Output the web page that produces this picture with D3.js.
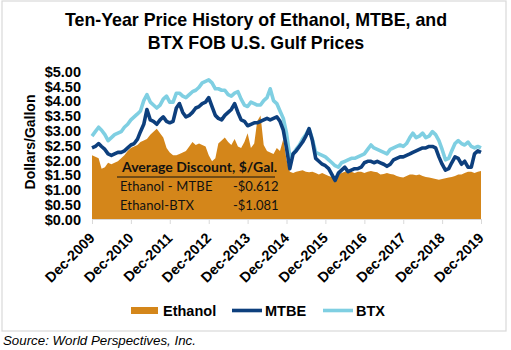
<!DOCTYPE html>
<html>
<head>
<meta charset="utf-8">
<script src="https://cdn.jsdelivr.net/npm/d3@7"></script>
<style>
  body { margin: 0; background: #fff; }
  svg { display: block; font-family: Arial, "Liberation Sans", sans-serif; }
</style>
</head>
<body>
<div id="chart"></div>
<script>
// monthly points, Dec-2009 .. Dec-2019 ($/gal)
const startYear = 2009, startMonth = 11;
const ethanol = [
  2.15, 2.10, 2.05, 1.70, 1.75, 1.90, 1.85, 1.90, 1.95, 2.05, 2.15, 2.30,
  2.40, 2.45, 2.50, 2.60, 2.65, 2.70, 2.85, 2.95, 3.05, 2.90, 2.75, 2.40,
  2.25, 2.15, 2.15, 2.20, 2.25, 2.30, 2.45, 2.60, 2.50, 2.55, 2.50, 2.45,
  2.15, 1.95, 2.05, 2.55, 2.65, 2.75, 2.60, 2.50, 2.70, 2.45, 2.40, 2.60,
  2.90, 2.40, 2.55, 3.30, 3.50, 2.50, 2.30, 2.25, 2.20, 2.40, 2.30, 2.70,
  2.00, 1.60, 1.55, 1.60, 1.62, 1.65, 1.60, 1.58, 1.60, 1.55, 1.50, 1.55,
  1.50, 1.45, 1.42, 1.45, 1.50, 1.55, 1.60, 1.65, 1.60, 1.55, 1.60, 1.60,
  1.55, 1.60, 1.62, 1.60, 1.58, 1.50, 1.52, 1.55, 1.52, 1.50, 1.45, 1.42,
  1.40, 1.45, 1.50, 1.50, 1.48, 1.50, 1.45, 1.42, 1.40, 1.38, 1.35, 1.33,
  1.35, 1.38, 1.40, 1.42, 1.45, 1.50, 1.50, 1.55, 1.60, 1.60, 1.55, 1.60,
  1.62
];
const mtbe = [
  2.40, 2.45, 2.55, 2.45, 2.35, 2.20, 2.15, 2.20, 2.25, 2.25, 2.30, 2.40,
  2.50, 2.55, 2.70, 2.95, 3.20, 3.70, 3.35, 3.30, 3.20, 3.35, 3.45, 3.30,
  3.25, 3.30, 3.75, 3.90, 3.60, 3.45, 3.50, 3.60, 3.75, 3.80, 3.90, 3.95,
  4.10, 3.80, 3.50, 3.40, 3.35, 3.50, 3.60, 3.70, 3.90, 3.60, 3.35, 3.30,
  3.15, 3.20, 3.25, 3.25, 3.30, 3.35, 3.40, 3.35, 3.40, 3.45, 3.30, 3.00,
  2.40, 1.70, 2.20, 2.30, 2.45, 2.60, 2.80, 3.05, 2.65, 2.05, 1.95, 1.85,
  1.80, 1.70, 1.50, 1.30, 1.55, 1.65, 1.75, 1.60, 1.65, 1.70, 1.70, 1.75,
  1.90, 1.95, 1.95, 1.90, 1.95, 1.90, 1.85, 1.78, 1.85, 2.00, 2.05, 2.10,
  2.10, 2.15, 2.20, 2.25, 2.30, 2.35, 2.40, 2.40, 2.45, 2.45, 2.40, 2.10,
  1.85, 1.65, 1.70, 1.90, 2.10, 2.05, 1.85, 1.95, 1.75, 1.75, 2.20, 2.30,
  2.25
];
const btx = [
  2.80, 2.95, 3.10, 3.00, 2.85, 2.65, 2.75, 2.85, 2.90, 2.95, 3.10, 3.20,
  3.35, 3.45, 3.55, 3.65, 4.00, 4.20, 3.95, 3.85, 3.75, 3.85, 4.05, 4.15,
  3.95, 3.95, 4.25, 4.25, 4.15, 4.10, 4.20, 4.30, 4.35, 4.45, 4.60, 4.65,
  4.70, 4.60, 4.40, 4.40, 4.35, 4.35, 4.20, 4.15, 4.25, 4.30, 4.05, 3.85,
  3.80, 3.95, 3.90, 3.85, 3.85, 4.00, 4.10, 4.40, 4.00, 3.90, 3.65, 3.40,
  2.90, 2.10, 2.20, 2.35, 2.50, 2.70, 2.85, 3.05, 2.70, 2.25, 2.20, 2.15,
  2.10, 2.00, 1.90, 1.80, 1.75, 1.90, 1.95, 2.00, 2.05, 2.05, 2.10, 2.15,
  2.20, 2.35, 2.50, 2.40, 2.35, 2.30, 2.25, 2.20, 2.35, 2.40, 2.45, 2.50,
  2.45, 2.55, 2.75, 2.90, 2.75, 2.80, 2.90, 2.75, 2.80, 2.95, 2.85, 2.65,
  2.35, 2.00, 2.05, 2.30, 2.55, 2.65, 2.55, 2.50, 2.60, 2.45, 2.40, 2.45,
  2.40
];
const tickYears = [2009, 2010, 2011, 2012, 2013, 2014, 2015, 2016, 2017, 2018, 2019];
const yTicks = [0, 0.5, 1, 1.5, 2, 2.5, 3, 3.5, 4, 4.5, 5];
const discountRows = [
  { label: "Ethanol - MTBE", value: "-$0.612" },
  { label: "Ethanol-BTX", value: "-$1.081" }
];

const W = 511, H = 350;
const colEth = "#d4861a", colMtbe = "#0d3f7d", colBtx = "#7fcfe2";

const data = ethanol.map((e, i) => ({
  date: new Date(startYear, startMonth + i, 1),
  eth: e, mtbe: mtbe[i], btx: btx[i]
}));

const svg = d3.select("#chart").append("svg")
  .attr("width", W).attr("height", H);

svg.append("rect").attr("width", W).attr("height", H).attr("fill", "#fff");
// chart frame
svg.append("rect")
  .attr("x", 2).attr("y", 1).attr("width", 504).attr("height", 330)
  .attr("fill", "none").attr("stroke", "#d9d9d9").attr("stroke-width", 1.2);

// title
const title = svg.append("text")
  .attr("text-anchor", "middle")
  .attr("font-size", 17.8).attr("font-weight", "bold").attr("fill", "#000");
title.append("tspan").attr("x", 256).attr("y", 26).text("Ten-Year Price History of Ethanol, MTBE, and");
title.append("tspan").attr("x", 256).attr("y", 49).text("BTX FOB U.S. Gulf Prices");

const x = d3.scaleTime()
  .domain([new Date(2009, 11, 1), new Date(2019, 11, 1)])
  .range([92, 481]);
const y = d3.scaleLinear().domain([0, 5]).range([219, 71]);

// y axis labels
const yAxis = svg.append("g")
  .attr("transform", "translate(92,0)")
  .call(d3.axisLeft(y).tickValues(yTicks).tickSize(0).tickPadding(11)
    .tickFormat(d => "$" + d3.format(".2f")(d)));
yAxis.select(".domain").remove();
yAxis.selectAll("text")
  .attr("font-family", "Arial, 'Liberation Sans', sans-serif")
  .attr("font-size", 14.5).attr("font-weight", "bold").attr("fill", "#000")
  .attr("dy", "0.36em");

svg.append("text")
  .attr("transform", "translate(35,142) rotate(-90)")
  .attr("text-anchor", "middle")
  .attr("font-size", 14).attr("font-weight", "bold")
  .text("Dollars/Gallon");

// ethanol area
svg.append("path")
  .datum(data)
  .attr("fill", colEth)
  .attr("d", d3.area().x(d => x(d.date)).y0(y(0)).y1(d => y(d.eth)));

const lineGen = key => d3.line().x(d => x(d.date)).y(d => y(d[key]));
svg.append("path").datum(data)
  .attr("fill", "none").attr("stroke", colBtx).attr("stroke-width", 3.6)
  .attr("stroke-linejoin", "round").attr("d", lineGen("btx"));
svg.append("path").datum(data)
  .attr("fill", "none").attr("stroke", colMtbe).attr("stroke-width", 3.6)
  .attr("stroke-linejoin", "round").attr("d", lineGen("mtbe"));

// x axis
const tickDates = tickYears.map(yr => new Date(yr, 11, 1));
const xAxis = svg.append("g")
  .attr("transform", "translate(0,219)")
  .call(d3.axisBottom(x).tickValues(tickDates).tickSize(5).tickSizeOuter(0)
    .tickFormat(d3.timeFormat("Dec-%Y")));
xAxis.select(".domain").attr("stroke", "#d9d9d9");
xAxis.selectAll(".tick line").attr("stroke", "#d9d9d9");
xAxis.selectAll("text")
  .attr("font-family", "Arial, 'Liberation Sans', sans-serif")
  .attr("font-size", 14.3).attr("font-weight", "bold").attr("fill", "#000")
  .attr("text-anchor", "end")
  .attr("dy", null).attr("y", null)
  .attr("transform", "translate(3,20) rotate(-45)");

// discount annotation
const note = svg.append("g")
  .attr("font-family", "Lato, 'Open Sans', sans-serif").attr("fill", "#111");
note.append("text")
  .attr("x", 122).attr("y", 172)
  .attr("font-size", 14).attr("font-weight", "bold")
  .text("Average Discount, $/Gal.");
note.append("line")
  .attr("x1", 117).attr("x2", 275).attr("y1", 177).attr("y2", 177)
  .attr("stroke", "#111").attr("stroke-width", 1);
note.selectAll(".row").data(discountRows).join("g")
  .attr("class", "row")
  .each(function(d, i) {
    const g = d3.select(this);
    g.append("text").attr("x", 120).attr("y", 191 + i * 18.5)
      .attr("font-size", 13).attr("letter-spacing", 0.15).text(d.label);
    g.append("text").attr("x", 233).attr("y", 191 + i * 18.5)
      .attr("font-size", 13).text(d.value);
  });

// legend
const legendItems = [
  { label: "Ethanol", color: colEth, type: "rect", x: 131 },
  { label: "MTBE", color: colMtbe, type: "line", x: 232 },
  { label: "BTX", color: colBtx, type: "line", x: 323 }
];
const legend = svg.append("g");
legendItems.forEach(it => {
  if (it.type === "rect") {
    legend.append("rect").attr("x", it.x).attr("y", 307).attr("width", 27).attr("height", 7)
      .attr("fill", it.color);
  } else {
    legend.append("line").attr("x1", it.x).attr("x2", it.x + 30)
      .attr("y1", 310.5).attr("y2", 310.5)
      .attr("stroke", it.color).attr("stroke-width", 3.6);
  }
  legend.append("text").attr("x", it.x + (it.type === "rect" ? 32 : 33)).attr("y", 315.5)
    .attr("font-size", 14.5).attr("font-weight", "bold").text(it.label);
});

// source
svg.append("text")
  .attr("x", 3).attr("y", 345)
  .attr("font-size", 13.3).attr("font-style", "italic").attr("fill", "#000")
  .text("Source: World Perspectives, Inc.");
</script>
</body>
</html>
